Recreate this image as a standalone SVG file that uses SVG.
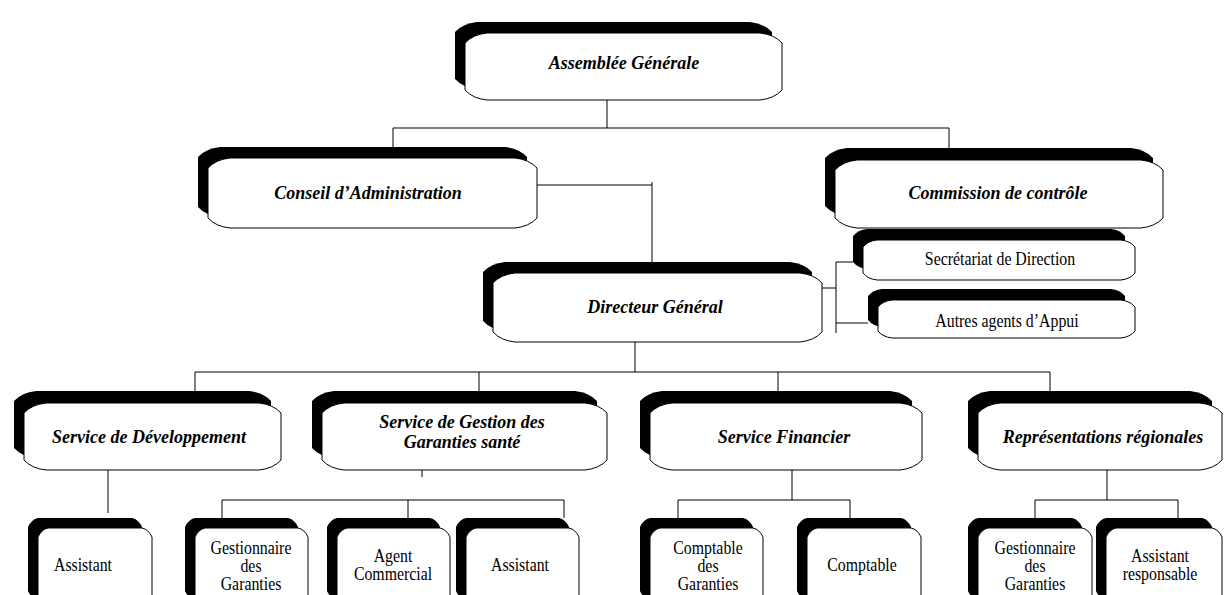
<svg xmlns="http://www.w3.org/2000/svg" width="1224" height="595" viewBox="0 0 1224 595">
<style>
.sh{fill:#000;stroke:none}
.bx{fill:#fff;stroke:#000;stroke-width:1}
.ln{fill:none;stroke:#000;stroke-width:1}
.t1{font-family:"Liberation Serif","Times New Roman",serif;font-weight:bold;font-style:italic;font-size:18px;text-anchor:middle;fill:#000}
.t2{font-family:"Liberation Serif","Times New Roman",serif;font-size:18px;text-anchor:middle;fill:#000}
</style>
<rect width="1224" height="595" fill="#fff"/>
<g id="connectors" class="ln">
<path d="M607,100V128M393,128H949M393,128V147M949,128V148"/>
<path d="M537,185H652M652,182V262"/>
<path d="M822,288H836M836,262V333M836,262H853M836,323H868"/>
<path d="M635,342V372M195,372H1050M195,372V392M479,372V392M778,372V392M1050,372V392"/>
<path d="M108,470V513M422,440V477"/>
<path d="M222,500H564M222,500V518M408,500V518M564,500V518"/>
<path d="M792,470V500M678,500H850M678,500V518M850,500V518"/>
<path d="M1107,470V500M1035,500H1178M1035,500V518M1178,500V518"/>
</g>
<g id="assemblee">
<path class="sh" transform="translate(-10,-11)" d="M487,33 L760,33 Q774.3,34.5 782,43 L782,90 Q774.3,98.5 760,100 L487,100 Q472.7,98.5 465,90 L465,43 Q472.7,34.5 487,33 Z"/>
<path class="bx" d="M487,33 L760,33 Q774.3,34.5 782,43 L782,90 Q774.3,98.5 760,100 L487,100 Q472.7,98.5 465,90 L465,43 Q472.7,34.5 487,33 Z"/>
<text class="t1" x="624" y="69">Assemblée Générale</text>
</g>
<g id="conseil">
<path class="sh" transform="translate(-10,-11)" d="M230,158 L515,158 Q529.3,159.5 537,168 L537,218 Q529.3,226.5 515,228 L230,228 Q215.7,226.5 208,218 L208,168 Q215.7,159.5 230,158 Z"/>
<path class="bx" d="M230,158 L515,158 Q529.3,159.5 537,168 L537,218 Q529.3,226.5 515,228 L230,228 Q215.7,226.5 208,218 L208,168 Q215.7,159.5 230,158 Z"/>
<text class="t1" x="368" y="199">Conseil d’Administration</text>
</g>
<g id="commission">
<path class="sh" transform="translate(-10,-12)" d="M857,160 L1141,160 Q1155.3,161.5 1163,170 L1163,218 Q1155.3,226.5 1141,228 L857,228 Q842.7,226.5 835,218 L835,170 Q842.7,161.5 857,160 Z"/>
<path class="bx" d="M857,160 L1141,160 Q1155.3,161.5 1163,170 L1163,218 Q1155.3,226.5 1141,228 L857,228 Q842.7,226.5 835,218 L835,170 Q842.7,161.5 857,160 Z"/>
<text class="t1" x="998" y="199">Commission de contrôle</text>
</g>
<g id="directeur">
<path class="sh" transform="translate(-10,-11)" d="M515,273 L800,273 Q814.3,274.5 822,283 L822,332 Q814.3,340.5 800,342 L515,342 Q500.7,340.5 493,332 L493,283 Q500.7,274.5 515,273 Z"/>
<path class="bx" d="M515,273 L800,273 Q814.3,274.5 822,283 L822,332 Q814.3,340.5 800,342 L515,342 Q500.7,340.5 493,332 L493,283 Q500.7,274.5 515,273 Z"/>
<text class="t1" x="655" y="313">Directeur Général</text>
</g>
<g id="secretariat">
<path class="sh" transform="translate(-10,-11)" d="M877,240 L1121,240 Q1130.1,241 1135,247 L1135,273 Q1130.1,279 1121,280 L877,280 Q867.9,279 863,273 L863,247 Q867.9,241 877,240 Z"/>
<path class="bx" d="M877,240 L1121,240 Q1130.1,241 1135,247 L1135,273 Q1130.1,279 1121,280 L877,280 Q867.9,279 863,273 L863,247 Q867.9,241 877,240 Z"/>
<text class="t2" transform="scale(0.88 1)" x="1136.36" y="265">Secrétariat de Direction</text>
</g>
<g id="autres">
<path class="sh" transform="translate(-10,-11)" d="M892,300 L1121,300 Q1130.1,301 1135,307 L1135,331 Q1130.1,337 1121,338 L892,338 Q882.9,337 878,331 L878,307 Q882.9,301 892,300 Z"/>
<path class="bx" d="M892,300 L1121,300 Q1130.1,301 1135,307 L1135,331 Q1130.1,337 1121,338 L892,338 Q882.9,337 878,331 L878,307 Q882.9,301 892,300 Z"/>
<text class="t2" transform="scale(0.88 1)" x="1144.32" y="327">Autres agents d’Appui</text>
</g>
<g id="service-dev">
<path class="sh" transform="translate(-10,-12)" d="M46,403 L259,403 Q273.3,404.5 281,413 L281,460 Q273.3,468.5 259,470 L46,470 Q31.7,468.5 24,460 L24,413 Q31.7,404.5 46,403 Z"/>
<path class="bx" d="M46,403 L259,403 Q273.3,404.5 281,413 L281,460 Q273.3,468.5 259,470 L46,470 Q31.7,468.5 24,460 L24,413 Q31.7,404.5 46,403 Z"/>
<text class="t1" x="149" y="443">Service de Développement</text>
</g>
<g id="service-gestion">
<path class="sh" transform="translate(-10,-12)" d="M344,403 L585,403 Q599.3,404.5 607,413 L607,460 Q599.3,468.5 585,470 L344,470 Q329.7,468.5 322,460 L322,413 Q329.7,404.5 344,403 Z"/>
<path class="bx" d="M344,403 L585,403 Q599.3,404.5 607,413 L607,460 Q599.3,468.5 585,470 L344,470 Q329.7,468.5 322,460 L322,413 Q329.7,404.5 344,403 Z"/>
<text class="t1"><tspan x="462" y="428">Service de Gestion des</tspan><tspan x="462" y="448">Garanties santé</tspan></text>
</g>
<g id="service-financier">
<path class="sh" transform="translate(-10,-12)" d="M672,403 L900,403 Q914.3,404.5 922,413 L922,460 Q914.3,468.5 900,470 L672,470 Q657.7,468.5 650,460 L650,413 Q657.7,404.5 672,403 Z"/>
<path class="bx" d="M672,403 L900,403 Q914.3,404.5 922,413 L922,460 Q914.3,468.5 900,470 L672,470 Q657.7,468.5 650,460 L650,413 Q657.7,404.5 672,403 Z"/>
<text class="t1" x="784" y="443">Service Financier</text>
</g>
<g id="representations">
<path class="sh" transform="translate(-10,-12)" d="M1000,403 L1200,403 Q1214.3,404.5 1222,413 L1222,460 Q1214.3,468.5 1200,470 L1000,470 Q985.7,468.5 978,460 L978,413 Q985.7,404.5 1000,403 Z"/>
<path class="bx" d="M1000,403 L1200,403 Q1214.3,404.5 1222,413 L1222,460 Q1214.3,468.5 1200,470 L1000,470 Q985.7,468.5 978,460 L978,413 Q985.7,404.5 1000,403 Z"/>
<text class="t1" x="1103" y="443">Représentations régionales</text>
</g>
<g id="assistant-dev">
<path class="sh" transform="translate(-10,-10)" d="M48,528 L142,528 Q148.5,529.35 152,537 L152,601 Q148.5,608.65 142,610 L48,610 Q41.5,608.65 38,601 L38,537 Q41.5,529.35 48,528 Z"/>
<path class="bx" d="M48,528 L142,528 Q148.5,529.35 152,537 L152,601 Q148.5,608.65 142,610 L48,610 Q41.5,608.65 38,601 L38,537 Q41.5,529.35 48,528 Z"/>
<text class="t2" transform="scale(0.88 1)" x="94.32" y="571">Assistant</text>
</g>
<g id="gestionnaire-1">
<path class="sh" transform="translate(-10,-10)" d="M205,528 L298,528 Q304.5,529.35 308,537 L308,601 Q304.5,608.65 298,610 L205,610 Q198.5,608.65 195,601 L195,537 Q198.5,529.35 205,528 Z"/>
<path class="bx" d="M205,528 L298,528 Q304.5,529.35 308,537 L308,601 Q304.5,608.65 298,610 L205,610 Q198.5,608.65 195,601 L195,537 Q198.5,529.35 205,528 Z"/>
<text class="t2" transform="scale(0.88 1)"><tspan x="285.23" y="554">Gestionnaire</tspan><tspan x="285.23" y="572">des</tspan><tspan x="285.23" y="590">Garanties</tspan></text>
</g>
<g id="agent-commercial">
<path class="sh" transform="translate(-10,-10)" d="M347,528 L440,528 Q446.5,529.35 450,537 L450,601 Q446.5,608.65 440,610 L347,610 Q340.5,608.65 337,601 L337,537 Q340.5,529.35 347,528 Z"/>
<path class="bx" d="M347,528 L440,528 Q446.5,529.35 450,537 L450,601 Q446.5,608.65 440,610 L347,610 Q340.5,608.65 337,601 L337,537 Q340.5,529.35 347,528 Z"/>
<text class="t2" transform="scale(0.88 1)"><tspan x="446.59" y="562">Agent</tspan><tspan x="446.59" y="580">Commercial</tspan></text>
</g>
<g id="assistant-gestion">
<path class="sh" transform="translate(-10,-10)" d="M476,528 L569,528 Q575.5,529.35 579,537 L579,601 Q575.5,608.65 569,610 L476,610 Q469.5,608.65 466,601 L466,537 Q469.5,529.35 476,528 Z"/>
<path class="bx" d="M476,528 L569,528 Q575.5,529.35 579,537 L579,601 Q575.5,608.65 569,610 L476,610 Q469.5,608.65 466,601 L466,537 Q469.5,529.35 476,528 Z"/>
<text class="t2" transform="scale(0.88 1)" x="590.91" y="571">Assistant</text>
</g>
<g id="comptable-garanties">
<path class="sh" transform="translate(-10,-10)" d="M660,528 L753,528 Q759.5,529.35 763,537 L763,601 Q759.5,608.65 753,610 L660,610 Q653.5,608.65 650,601 L650,537 Q653.5,529.35 660,528 Z"/>
<path class="bx" d="M660,528 L753,528 Q759.5,529.35 763,537 L763,601 Q759.5,608.65 753,610 L660,610 Q653.5,608.65 650,601 L650,537 Q653.5,529.35 660,528 Z"/>
<text class="t2" transform="scale(0.88 1)"><tspan x="804.55" y="554">Comptable</tspan><tspan x="804.55" y="572">des</tspan><tspan x="804.55" y="590">Garanties</tspan></text>
</g>
<g id="comptable">
<path class="sh" transform="translate(-10,-10)" d="M817,528 L911,528 Q917.5,529.35 921,537 L921,601 Q917.5,608.65 911,610 L817,610 Q810.5,608.65 807,601 L807,537 Q810.5,529.35 817,528 Z"/>
<path class="bx" d="M817,528 L911,528 Q917.5,529.35 921,537 L921,601 Q917.5,608.65 911,610 L817,610 Q810.5,608.65 807,601 L807,537 Q810.5,529.35 817,528 Z"/>
<text class="t2" transform="scale(0.88 1)" x="979.55" y="571">Comptable</text>
</g>
<g id="gestionnaire-2">
<path class="sh" transform="translate(-10,-10)" d="M988,528 L1082,528 Q1088.5,529.35 1092,537 L1092,601 Q1088.5,608.65 1082,610 L988,610 Q981.5,608.65 978,601 L978,537 Q981.5,529.35 988,528 Z"/>
<path class="bx" d="M988,528 L1082,528 Q1088.5,529.35 1092,537 L1092,601 Q1088.5,608.65 1082,610 L988,610 Q981.5,608.65 978,601 L978,537 Q981.5,529.35 988,528 Z"/>
<text class="t2" transform="scale(0.88 1)"><tspan x="1176.14" y="554">Gestionnaire</tspan><tspan x="1176.14" y="572">des</tspan><tspan x="1176.14" y="590">Garanties</tspan></text>
</g>
<g id="assistant-responsable">
<path class="sh" transform="translate(-10,-10)" d="M1116,528 L1212,528 Q1218.5,529.35 1222,537 L1222,601 Q1218.5,608.65 1212,610 L1116,610 Q1109.5,608.65 1106,601 L1106,537 Q1109.5,529.35 1116,528 Z"/>
<path class="bx" d="M1116,528 L1212,528 Q1218.5,529.35 1222,537 L1222,601 Q1218.5,608.65 1212,610 L1116,610 Q1109.5,608.65 1106,601 L1106,537 Q1109.5,529.35 1116,528 Z"/>
<text class="t2" transform="scale(0.88 1)"><tspan x="1318.18" y="562">Assistant</tspan><tspan x="1318.18" y="580">responsable</tspan></text>
</g>
</svg>
